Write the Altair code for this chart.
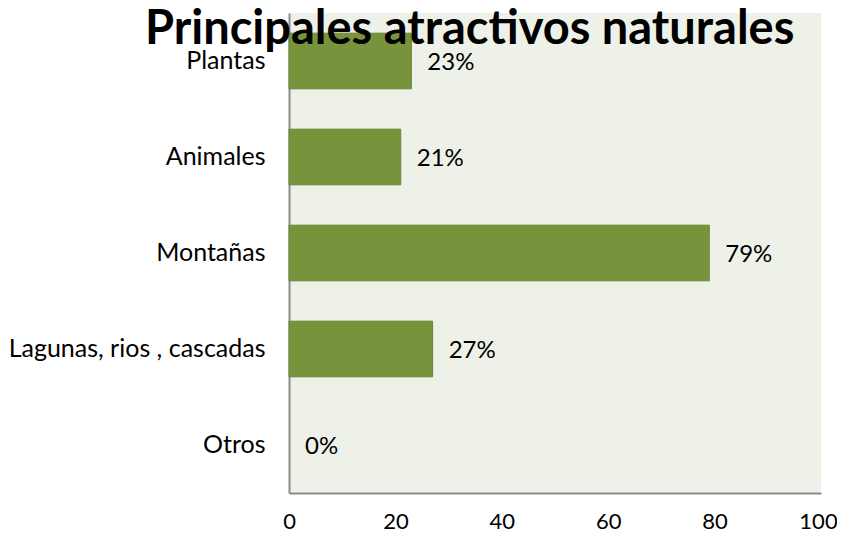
import altair as alt
import pandas as pd

categories = ["Plantas", "Animales", "Montañas", "Lagunas, rios , cascadas", "Otros"]
values = [23, 21, 79, 27, 0]
labels = ["23%", "21%", "79%", "27%", "0%"]
x_ticks = [0, 20, 40, 60, 80, 100]

df = pd.DataFrame({"cat": categories, "val": values, "lab": labels})

FONT = "Lato"

base = alt.Chart(df).encode(
    y=alt.Y(
        "cat:N",
        sort=categories,
        scale=alt.Scale(paddingInner=0.42, paddingOuter=0.21),
        axis=alt.Axis(title=None, ticks=False, labelFontSize=25, labelPadding=24,
                      labelColor="black", labelFont=FONT, domainColor="#8c8c8c",
                      domainWidth=2, labelLimit=400),
    ),
    x=alt.X(
        "val:Q",
        scale=alt.Scale(domain=[0, 100], nice=False),
        axis=alt.Axis(values=x_ticks, title=None, grid=False, ticks=False,
                      labelFontSize=22, labelPadding=18, labelColor="black",
                      labelFont=FONT, labelFlush=False, domainColor="#8c8c8c",
                      domainWidth=2,
                      labelOffset={"condition": {"test": "datum.value == 100", "value": -3},
                                   "value": 0}),
    ),
)

bars = base.mark_bar(color="#77933c", stroke="#6a8535", strokeWidth=1).encode(
    strokeOpacity=alt.condition("datum.val > 0", alt.value(1), alt.value(0))
)
text = base.mark_text(align="left", baseline="middle", dx=16, dy=2, fontSize=24,
                      font=FONT, color="black").encode(text="lab:N")

chart = (bars + text).properties(
    width=532,
    height=480,
    autosize=alt.AutoSizeParams(type="none"),
    padding={"left": 281, "top": 5, "right": 16, "bottom": 38},
    title=alt.TitleParams(
        "Principales atractivos naturales",
        fontSize=47, font=FONT, fontWeight="bold", color="black",
        anchor="start", frame="group", dx=-144, dy=78, offset=0,
        baseline="alphabetic",
    ),
).configure_view(fill="#eef1e8", stroke=None)

chart.save("out.html", embed_options={"renderer": "svg", "actions": False})
